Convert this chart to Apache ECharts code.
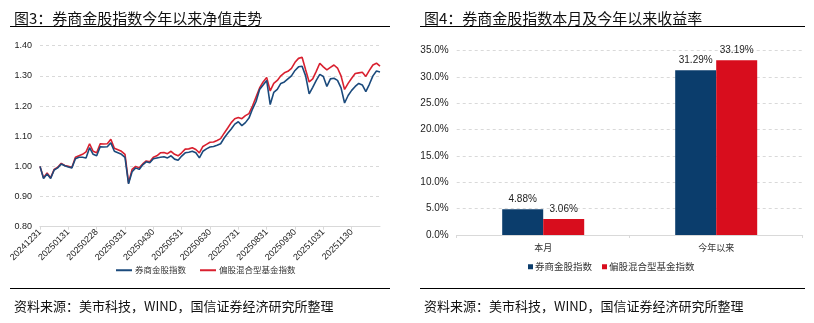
<!DOCTYPE html>
<html>
<head>
<meta charset="utf-8">
<script src="https://cdn.jsdelivr.net/npm/echarts@6/dist/echarts.min.js"></script>
<style>html,body{margin:0;padding:0;background:#fff;}#c{width:814px;height:323px;}</style>
</head>
<body>
<div id="c"></div>
<script>
// ---- data: left chart (net value) ----
const dates = [
  '20241231',
  '20250106','20250108','20250110','20250114','20250117','20250121','20250124','20250131',
  '20250207','20250211','20250213','20250217','20250219','20250221','20250225','20250228',
  '20250304','20250307','20250311','20250314','20250318','20250321','20250325','20250331',
  '20250403','20250408','20250411','20250415','20250418','20250422','20250425','20250430',
  '20250507','20250509','20250513','20250516','20250520','20250523','20250527','20250531',
  '20250604','20250606','20250610','20250613','20250617','20250620','20250625','20250630',
  '20250703','20250708','20250711','20250715','20250718','20250722','20250725','20250731',
  '20250805','20250808','20250812','20250815','20250819','20250822','20250826','20250831',
  '20250903','20250905','20250909','20250912','20250916','20250919','20250924','20250930',
  '20251010','20251013','20251015','20251017','20251021','20251024','20251028','20251031',
  '20251104','20251107','20251111','20251114','20251118','20251121','20251125','20251130',
  '20251203','20251205','20251209','20251212','20251216','20251219','20251224','20251231'
];
const monthEndLabels = ['20241231','20250131','20250228','20250331','20250430','20250531','20250630','20250731','20250831','20250930','20251031','20251130'];
const brokerIndex = [
  1.000,
  0.960,0.975,0.960,0.988,0.995,1.008,1.002,0.998,
  0.995,1.025,1.030,1.030,1.028,1.062,1.040,1.035,
  1.065,1.064,1.065,1.078,1.050,1.045,1.040,1.030,
  0.942,0.982,0.995,0.990,1.005,1.015,1.012,1.025,
  1.028,1.030,1.032,1.028,1.035,1.024,1.020,1.034,
  1.045,1.047,1.050,1.045,1.028,1.050,1.058,1.064,
  1.066,1.070,1.075,1.094,1.110,1.124,1.140,1.148,
  1.135,1.145,1.160,1.190,1.215,1.255,1.270,1.285,
  1.205,1.245,1.255,1.275,1.280,1.290,1.300,1.318,
  1.330,1.332,1.300,1.240,1.262,1.285,1.305,1.298,
  1.265,1.290,1.292,1.285,1.260,1.210,1.235,1.252,
  1.265,1.275,1.270,1.248,1.272,1.300,1.316,1.313
];
const fundIndex = [
  1.000,
  0.962,0.978,0.962,0.990,0.997,1.010,1.003,1.000,
  0.996,1.030,1.035,1.040,1.048,1.075,1.050,1.045,
  1.075,1.074,1.075,1.090,1.060,1.055,1.050,1.040,
  0.945,0.990,1.000,0.995,1.008,1.018,1.015,1.030,
  1.035,1.045,1.046,1.042,1.050,1.040,1.035,1.045,
  1.057,1.058,1.062,1.056,1.045,1.066,1.073,1.080,
  1.081,1.086,1.092,1.110,1.127,1.145,1.158,1.162,
  1.158,1.168,1.175,1.200,1.230,1.260,1.280,1.295,
  1.250,1.275,1.285,1.300,1.310,1.315,1.325,1.345,
  1.358,1.362,1.320,1.280,1.290,1.315,1.342,1.330,
  1.320,1.328,1.336,1.326,1.300,1.255,1.275,1.292,
  1.308,1.310,1.312,1.298,1.318,1.336,1.342,1.332
];
// ---- data: right chart (returns, %) ----
const periods = ['本月','今年以来'];
const brokerReturn = [4.88, 31.29];
const fundReturn = [3.06, 33.19];
const seriesNames = ['券商金股指数','偏股混合型基金指数'];
const yTicksLeft = [0.8, 1.4, 0.1];
const yTicksRight = [0, 35, 5];

const BLUE_LINE = '#1b4a7c', RED_LINE = '#d9202f';
const BLUE_BAR = '#0b3d6c', RED_BAR = '#d80d1d';
const num = 'Liberation Sans, Arial, sans-serif';
const cjk = 'Noto Sans CJK SC, sans-serif';

const chart = echarts.init(document.getElementById('c'));
const isMonthEnd = (i) => monthEndLabels.indexOf(dates[i]) >= 0;

chart.setOption({
  animation: false,
  title: [
    {text: '图3：券商金股指数今年以来净值走势', left: 9, top: 6, textStyle: {fontFamily: cjk, fontSize: 15, fontWeight: 'normal', color: '#111'}},
    {text: '图4：券商金股指数本月及今年以来收益率', left: 419, top: 6, textStyle: {fontFamily: cjk, fontSize: 15, fontWeight: 'normal', color: '#111'}},
    {text: '资料来源：美市科技，WIND，国信证券经济研究所整理', left: 9, top: 295, textStyle: {fontFamily: cjk, fontSize: 13, fontWeight: 'normal', color: '#111'}},
    {text: '资料来源：美市科技，WIND，国信证券经济研究所整理', left: 419, top: 295, textStyle: {fontFamily: cjk, fontSize: 13, fontWeight: 'normal', color: '#111'}}
  ],
  graphic: [
    {type: 'line', shape: {x1: 10, y1: 26.5, x2: 390, y2: 26.5}, style: {stroke: '#000', lineWidth: 1}},
    {type: 'line', shape: {x1: 420, y1: 26.5, x2: 805, y2: 26.5}, style: {stroke: '#000', lineWidth: 1}},
    {type: 'line', shape: {x1: 10, y1: 288.5, x2: 390, y2: 288.5}, style: {stroke: '#000', lineWidth: 1}},
    {type: 'line', shape: {x1: 420, y1: 288.5, x2: 805, y2: 288.5}, style: {stroke: '#000', lineWidth: 1}}
  ],
  legend: [
    {data: seriesNames.map(n => ({name: n})), left: 111, top: 261, icon: 'rect', itemWidth: 16, itemHeight: 2, itemGap: 14,
     textStyle: {fontFamily: cjk, fontSize: 8.5, color: '#333', padding: [0,0,0,-2]}, selectedMode: false,
     formatter: n => n},
    {data: seriesNames.map(n => ({name: n + ' '})), left: 523, top: 257, icon: 'rect', itemWidth: 5, itemHeight: 5, itemGap: 10,
     textStyle: {fontFamily: cjk, fontSize: 9.5, color: '#333', padding: [0,0,0,-3]}, selectedMode: false,
     formatter: n => n.trim()}
  ],
  grid: [
    {left: 40, right: 434, top: 45.7, bottom: 96.3},
    {left: 456.7, right: 11.3, top: 50.7, bottom: 88}
  ],
  xAxis: [
    {type: 'category', gridIndex: 0, data: dates, boundaryGap: false,
     axisLine: {lineStyle: {color: '#d9d9d9'}},
     axisTick: {show: true, interval: (i) => isMonthEnd(i), length: 3, lineStyle: {color: '#d9d9d9'}},
     axisLabel: {interval: (i) => isMonthEnd(i), rotate: 45, fontFamily: num, fontSize: 9, color: '#222', margin: 4}},
    {type: 'category', gridIndex: 1, data: periods,
     axisLine: {lineStyle: {color: '#d9d9d9'}},
     axisTick: {show: true, length: 3, lineStyle: {color: '#d9d9d9'}},
     axisLabel: {fontFamily: cjk, fontSize: 9, color: '#333', margin: 8}}
  ],
  yAxis: [
    {type: 'value', gridIndex: 0, min: yTicksLeft[0], max: yTicksLeft[1], interval: yTicksLeft[2],
     axisLine: {show: false}, axisTick: {show: false},
     axisLabel: {formatter: v => v.toFixed(2), fontFamily: num, fontSize: 9, color: '#222', margin: 8},
     splitLine: {lineStyle: {color: '#d9d9d9', type: [3, 3]}}},
    {type: 'value', gridIndex: 1, min: yTicksRight[0], max: yTicksRight[1], interval: yTicksRight[2],
     axisLine: {show: false}, axisTick: {show: false},
     axisLabel: {formatter: v => v.toFixed(1) + '%', fontFamily: num, fontSize: 10, color: '#222', margin: 8},
     splitLine: {lineStyle: {color: '#d9d9d9', type: [3, 3]}}}
  ],
  series: [
    {name: seriesNames[0], type: 'line', xAxisIndex: 0, yAxisIndex: 0, data: brokerIndex, symbol: 'none', z: 3,
     lineStyle: {color: BLUE_LINE, width: 1.6}, itemStyle: {color: BLUE_LINE}},
    {name: seriesNames[1], type: 'line', xAxisIndex: 0, yAxisIndex: 0, data: fundIndex, symbol: 'none', z: 2,
     lineStyle: {color: RED_LINE, width: 1.6}, itemStyle: {color: RED_LINE}},
    {name: seriesNames[0] + ' ', type: 'bar', xAxisIndex: 1, yAxisIndex: 1, data: brokerReturn, barWidth: 41, barGap: '0%',
     itemStyle: {color: BLUE_BAR},
     label: {show: true, position: 'top', distance: 5, formatter: p => p.value.toFixed(2) + '%', fontFamily: num, fontSize: 10, color: '#222'}},
    {name: seriesNames[1] + ' ', type: 'bar', xAxisIndex: 1, yAxisIndex: 1, data: fundReturn, barWidth: 41, barGap: '0%',
     itemStyle: {color: RED_BAR},
     label: {show: true, position: 'top', distance: 5, formatter: p => p.value.toFixed(2) + '%', fontFamily: num, fontSize: 10, color: '#222'}}
  ]
});
</script>
</body>
</html>
